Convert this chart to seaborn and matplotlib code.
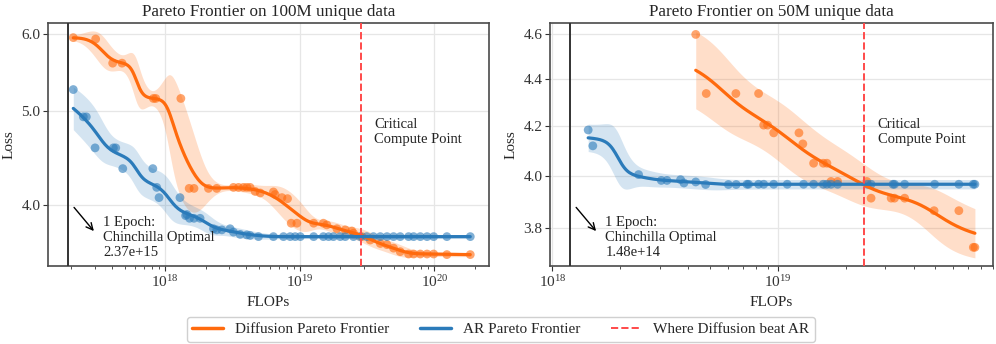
import numpy as np
import matplotlib
matplotlib.use("Agg")
import matplotlib.pyplot as plt
import seaborn as sns
from matplotlib.lines import Line2D
from matplotlib.ticker import FixedLocator, FormatStrFormatter, NullLocator

# ---------------- data ----------------
# 100M unique data (left panel)
diff100_flops = [2.08e17, 3.05e17, 4.08e17, 4.79e17, 8.19e17, 8.53e17, 1.31e18, 1.51e18, 1.64e18,
                 2.10e18, 2.42e18, 3.22e18, 3.51e18, 3.82e18, 4.05e18, 4.28e18, 4.67e18, 5.09e18,
                 6.38e18, 6.57e18, 7.38e18, 8.12e18, 8.65e18, 9.53e18, 1.27e19, 1.50e19, 1.59e19,
                 1.89e19, 2.18e19, 2.44e19, 2.51e19, 2.90e19, 3.34e19, 3.97e19, 4.45e19, 4.98e19,
                 5.58e19, 6.44e19, 7.02e19, 7.87e19, 8.83e19, 9.89e19, 1.24e20, 1.85e20]
diff100_loss = [5.95, 5.93, 5.60, 5.60, 5.15, 5.15, 5.15, 4.16, 4.16,
                4.16, 4.16, 4.17, 4.17, 4.17, 4.17, 4.17, 4.13, 4.115,
                4.125, 4.10, 4.07, 4.06, 3.83, 3.83, 3.83, 3.83, 3.815,
                3.78, 3.77, 3.76, 3.74, 3.71, 3.68, 3.65, 3.64, 3.61,
                3.58, 3.56, 3.56, 3.56, 3.56, 3.56, 3.555, 3.555]

ar100_flops = [2.08e17, 2.47e17, 2.60e17, 3.02e17, 4.13e17, 4.30e17, 4.85e17, 8.11e17, 8.67e17,
               9.02e17, 1.29e18, 1.42e18, 1.45e18, 1.52e18, 1.64e18, 1.82e18, 2.29e18, 2.42e18,
               2.64e18, 3.04e18, 3.22e18, 3.61e18, 4.05e18, 4.28e18, 4.94e18, 6.38e18, 7.58e18,
               8.50e18, 9.26e18, 1.01e19, 1.27e19, 1.50e19, 1.64e19, 1.78e19, 2.00e19, 2.18e19,
               2.51e19, 2.81e19, 3.15e19, 3.53e19, 3.97e19, 4.45e19, 4.98e19, 5.58e19, 6.44e19,
               7.02e19, 7.87e19, 8.83e19, 9.89e19, 1.24e20, 1.85e20]
ar100_loss = [5.26, 4.93, 4.93, 4.58, 4.58, 4.58, 4.36, 4.36, 4.17,
              4.07, 4.07, 3.90, 3.91, 3.875, 3.875, 3.875, 3.78, 3.77,
              3.77, 3.78, 3.75, 3.73, 3.725, 3.72, 3.71, 3.71, 3.71,
              3.71, 3.71, 3.71, 3.71, 3.71, 3.71, 3.71, 3.71, 3.71,
              3.71, 3.71, 3.71, 3.71, 3.71, 3.71, 3.71, 3.71, 3.71,
              3.71, 3.71, 3.71, 3.71, 3.71, 3.71]

# 50M unique data (right panel)
diff50_flops = [4.32e18, 4.81e18, 6.51e18, 8.21e18, 8.65e18, 9.00e18, 9.58e18, 1.24e19, 1.29e19,
                1.44e19, 1.59e19, 1.65e19, 1.72e19, 1.84e19, 2.48e19, 2.59e19, 3.18e19, 3.29e19,
                3.65e19, 4.93e19, 6.35e19, 7.36e19, 7.48e19]
diff50_loss = [4.598, 4.338, 4.338, 4.338, 4.205, 4.205, 4.173, 4.173, 4.128,
               4.05, 4.05, 4.05, 3.978, 3.978, 3.978, 3.913, 3.913, 3.913,
               3.913, 3.865, 3.865, 3.728, 3.728]

ar50_flops = [1.44e18, 1.51e18, 2.41e18, 3.04e18, 3.22e18, 3.70e18, 3.83e18, 4.32e18, 4.78e18,
              6.03e18, 6.53e18, 7.29e18, 7.41e18, 8.21e18, 8.65e18, 9.58e18, 1.10e19, 1.30e19,
              1.44e19, 1.59e19, 1.65e19, 1.72e19, 1.84e19, 2.50e19, 2.59e19, 3.24e19, 3.29e19,
              3.65e19, 4.96e19, 6.35e19, 7.36e19, 7.48e19]
ar50_loss = [4.185, 4.12, 4.005, 3.982, 3.982, 3.985, 3.972, 3.976, 3.966,
             3.966, 3.966, 3.967, 3.967, 3.967, 3.967, 3.967, 3.967, 3.967,
             3.967, 3.967, 3.967, 3.967, 3.967, 3.967, 3.967, 3.967, 3.967,
             3.967, 3.967, 3.967, 3.967, 3.967]

chinchilla_flops = [1.9e17, 1.2e18]
critical_flops = [2.83e19, 2.41e19]
chinchilla_text = ["1 Epoch:\nChinchilla Optimal\n2.37e+15", "1 Epoch:\nChinchilla Optimal\n1.48e+14"]
titles = ["Pareto Frontier on 100M unique data", "Pareto Frontier on 50M unique data"]
yticks = [[4.0, 5.0, 6.0], [3.8, 4.0, 4.2, 4.4, 4.6]]

DIFF_COLOR = "#ff6a0d"
AR_COLOR = "#2b7bba"
RED = "#ff4a4a"


def smooth(flops, loss, bw, z=1.1, floor=0.002, n=300):
    """Gaussian kernel smoother in log-log space, band = weighted local spread."""
    lx = np.log10(flops)
    ly = np.log10(loss)
    grid = np.linspace(lx.min(), lx.max(), n)
    w = np.exp(-0.5 * ((grid[:, None] - lx[None, :]) / bw) ** 2)
    w /= w.sum(axis=1, keepdims=True)
    fit = (w * ly).sum(axis=1)
    sd = np.sqrt((w * (ly[None, :] - fit[:, None]) ** 2).sum(axis=1))
    half = z * sd + floor
    return 10 ** grid, 10 ** fit, 10 ** (fit - half), 10 ** (fit + half)


sns.set_theme(style="whitegrid", rc={
    "axes.edgecolor": "#4a4a4a", "axes.linewidth": 1.2, "grid.color": "#e6e6e6",
    "grid.linewidth": 0.9, "xtick.bottom": True, "ytick.left": True,
    "xtick.color": "#333333", "ytick.color": "#333333",
    "xtick.major.size": 3.5, "xtick.minor.size": 2.0, "ytick.major.size": 3.5,
    "xtick.major.width": 0.8, "xtick.minor.width": 0.6, "ytick.major.width": 0.8,
})
plt.rcParams["font.family"] = ["Liberation Serif", "DejaVu Serif"]
plt.rcParams["mathtext.fontset"] = "stix"

fig = plt.figure(figsize=(9.96, 3.44), dpi=100)
ax_l = fig.add_axes([0.0482, 0.2267, 0.4428, 0.7064])
ax_r = fig.add_axes([0.5522, 0.2267, 0.4448, 0.7064])

panels = [
    (ax_l, diff100_flops, diff100_loss, ar100_flops, ar100_loss, 0.08, 0.09, (1.35e17, 2.55e20), (3.46, 6.16)),
    (ax_r, diff50_flops, diff50_loss, ar50_flops, ar50_loss, 0.12, 0.07, (9.75e17, 9.0e19), (3.66, 4.65)),
]

for i, (ax, dx, dy, axx, ayy, bw_d, bw_a, xlim, ylim) in enumerate(panels):
    for x, y, bw, col, band_alpha in [(dx, dy, bw_d, DIFF_COLOR, 0.22), (axx, ayy, bw_a, AR_COLOR, 0.2)]:
        gx, gy, lo, hi = smooth(x, y, bw)
        ax.fill_between(gx, lo, hi, color=col, alpha=band_alpha, linewidth=0, zorder=1)
        sns.scatterplot(x=x, y=y, ax=ax, color=col, alpha=0.6, s=40, edgecolor="none", zorder=2)
        sns.lineplot(x=gx, y=gy, ax=ax, color=col, linewidth=2.3, sort=False, estimator=None, zorder=3)

    ax.axvline(chinchilla_flops[i], color="#333333", linewidth=1.4, zorder=4)
    ax.axvline(critical_flops[i], color=RED, linestyle="--", linewidth=1.4, zorder=4)

    ax.set_xscale("log")
    ax.set_yscale("log")
    ax.set_xlim(*xlim)
    ax.set_ylim(*ylim)
    ax.yaxis.set_major_locator(FixedLocator(yticks[i]))
    ax.yaxis.set_major_formatter(FormatStrFormatter("%.1f"))
    ax.yaxis.set_minor_locator(NullLocator())
    ax.tick_params(axis="both", labelsize=11, pad=2)
    ax.grid(True, which="major")
    ax.grid(False, which="minor")
    for s in ax.spines.values():
        s.set_visible(True)

    ax.set_title(titles[i], fontsize=12.3, pad=5)
    ax.set_xlabel("FLOPs", fontsize=11, labelpad=5)
    ax.set_ylabel("Loss", fontsize=11)

    ax.text(0.74, 0.55, "Critical\nCompute Point", transform=ax.transAxes, fontsize=10.5,
            ha="left", va="center", color="#222222")
    ax.text(0.125, 0.118, chinchilla_text[i], transform=ax.transAxes, fontsize=10.5,
            ha="left", va="center", color="#222222")
    ax.annotate("", xy=(0.108, 0.135), xytext=(0.055, 0.25), xycoords="axes fraction",
                arrowprops=dict(arrowstyle="->", color="black", lw=1.0))

handles = [
    Line2D([0], [0], color=DIFF_COLOR, lw=2.5, label="Diffusion Pareto Frontier"),
    Line2D([0], [0], color=AR_COLOR, lw=2.5, label="AR Pareto Frontier"),
    Line2D([0], [0], color=RED, lw=1.4, linestyle="--", label="Where Diffusion beat AR"),
]
fig.legend(handles=handles, loc="center", bbox_to_anchor=(0.503, 0.042), ncol=3, fontsize=11,
           frameon=True, edgecolor="#d0d0d0", framealpha=1.0, borderpad=0.35, columnspacing=2.0)

fig.savefig("out.png", dpi=100)
